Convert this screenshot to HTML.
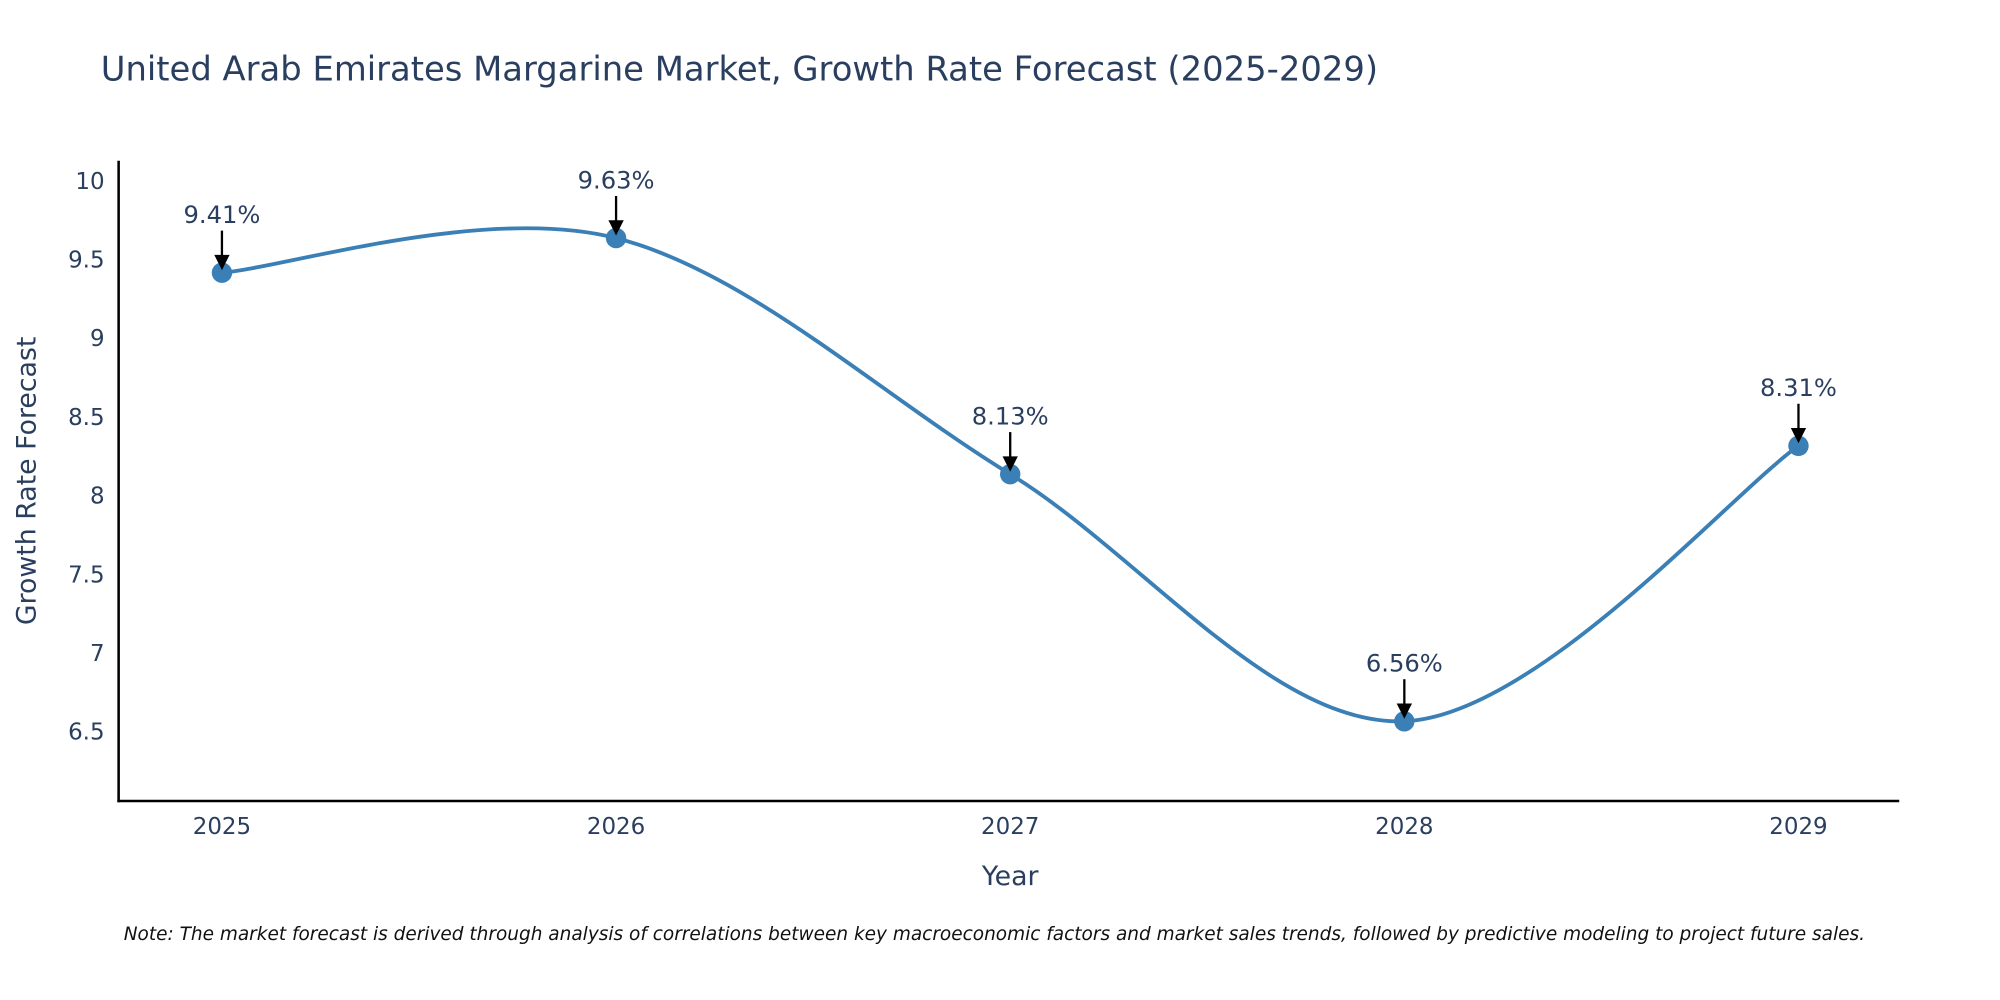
<!DOCTYPE html>
<html><head><meta charset="utf-8"><style>
html,body{margin:0;padding:0;background:#fff;}
svg{display:block;font-family:"DejaVu Sans","Liberation Sans",sans-serif;}
</style></head><body>
<svg id="chart" width="2000" height="1000" viewBox="0 0 1568 784" xmlns="http://www.w3.org/2000/svg">
<rect width="1568" height="784" fill="#fff"/>
<text x="79" y="63" font-size="26.5" fill="#2a3f5f">United Arab Emirates Margarine Market, Growth Rate Forecast (2025-2029)</text>
<g id="yticks"></g><g id="xticks"></g>
<path id="curve" fill="none" stroke="#3a7fb5" stroke-width="3"/>
<g id="marks"></g>
<line x1="93" y1="126" x2="93" y2="629" stroke="#000" stroke-width="2"/>
<line x1="92" y1="628" x2="1489" y2="628" stroke="#000" stroke-width="2"/>
<text transform="translate(28,377) rotate(-90)" text-anchor="middle" font-size="21" fill="#2a3f5f">Growth Rate Forecast</text>
<text x="792" y="694" text-anchor="middle" font-size="21" fill="#2a3f5f">Year</text>
<text x="97" y="737" font-size="14.5" font-style="italic" fill="#111">Note: The market forecast is derived through analysis of correlations between key macroeconomic factors and market sales trends, followed by predictive modeling to project future sales.</text>
</svg>
<script>
const years = [2025, 2026, 2027, 2028, 2029];
const growth = [9.41, 9.63, 8.13, 6.56, 8.31];
const yTickVals = [6.5, 7, 7.5, 8, 8.5, 9, 9.5, 10];
const yTickLabels = ["6.5", "7", "7.5", "8", "8.5", "9", "9.5", "10"];
const NS = "http://www.w3.org/2000/svg";
function xS(v){ return 174 + (v - 2025) * 309; }
function yS(v){ return 141 + (10 - v) * 123.4; }
function mk(tag, attrs, parent){ const e = document.createElementNS(NS, tag); for (const k in attrs) e.setAttribute(k, attrs[k]); parent.appendChild(e); return e; }
const yt = document.getElementById('yticks');
yTickVals.forEach((v,i)=>{
  const t = mk('text', {x:82, y:yS(v)+7, 'text-anchor':'end', 'font-size':18, fill:'#2a3f5f'}, yt);
  
  
  t.textContent = yTickLabels[i];
});
const xt = document.getElementById('xticks');
years.forEach(y=>{
  const t = mk('text', {x:xS(y), y:654, 'text-anchor':'middle', 'font-size':18, fill:'#2a3f5f'}, xt);
  
  
  t.textContent = String(y);
});
const pts = years.map((y,i)=>[xS(y), yS(growth[i])]);
let d = `M${pts[0][0]},${pts[0][1]}`;
const s = 0.5;
for (let i=0;i<pts.length-1;i++){
  const p0 = pts[Math.max(0,i-1)], p1 = pts[i], p2 = pts[i+1], p3 = pts[Math.min(pts.length-1,i+2)];
  const c1 = [p1[0] + (p2[0]-p0[0])*s/3, p1[1] + (p2[1]-p0[1])*s/3];
  const c2 = [p2[0] - (p3[0]-p1[0])*s/3, p2[1] - (p3[1]-p1[1])*s/3];
  d += ` C${c1[0]},${c1[1]} ${c2[0]},${c2[1]} ${p2[0]},${p2[1]}`;
}
document.getElementById('curve').setAttribute('d', d);
const mg = document.getElementById('marks');
pts.forEach((p,i)=>{
  const c = mk('circle', {cx:p[0], cy:p[1], r:8, fill:'#3a7fb5'}, mg);
  
  
  const l = mk('line', {x1:p[0], y1:p[1]-33, x2:p[0], y2:p[1]-12, stroke:'#000', 'stroke-width':1.8}, mg);
  
  
  const h = mk('polygon', {points:`${p[0]-6},${p[1]-14} ${p[0]+6},${p[1]-14} ${p[0]},${p[1]-2}`, fill:'#000'}, mg);
  
  
  const t = mk('text', {x:p[0], y:p[1]-39, 'text-anchor':'middle', 'font-size':19, fill:'#2a3f5f'}, mg);
  
  
  t.textContent = growth[i].toFixed(2) + '%';
});
</script>
</body></html>
